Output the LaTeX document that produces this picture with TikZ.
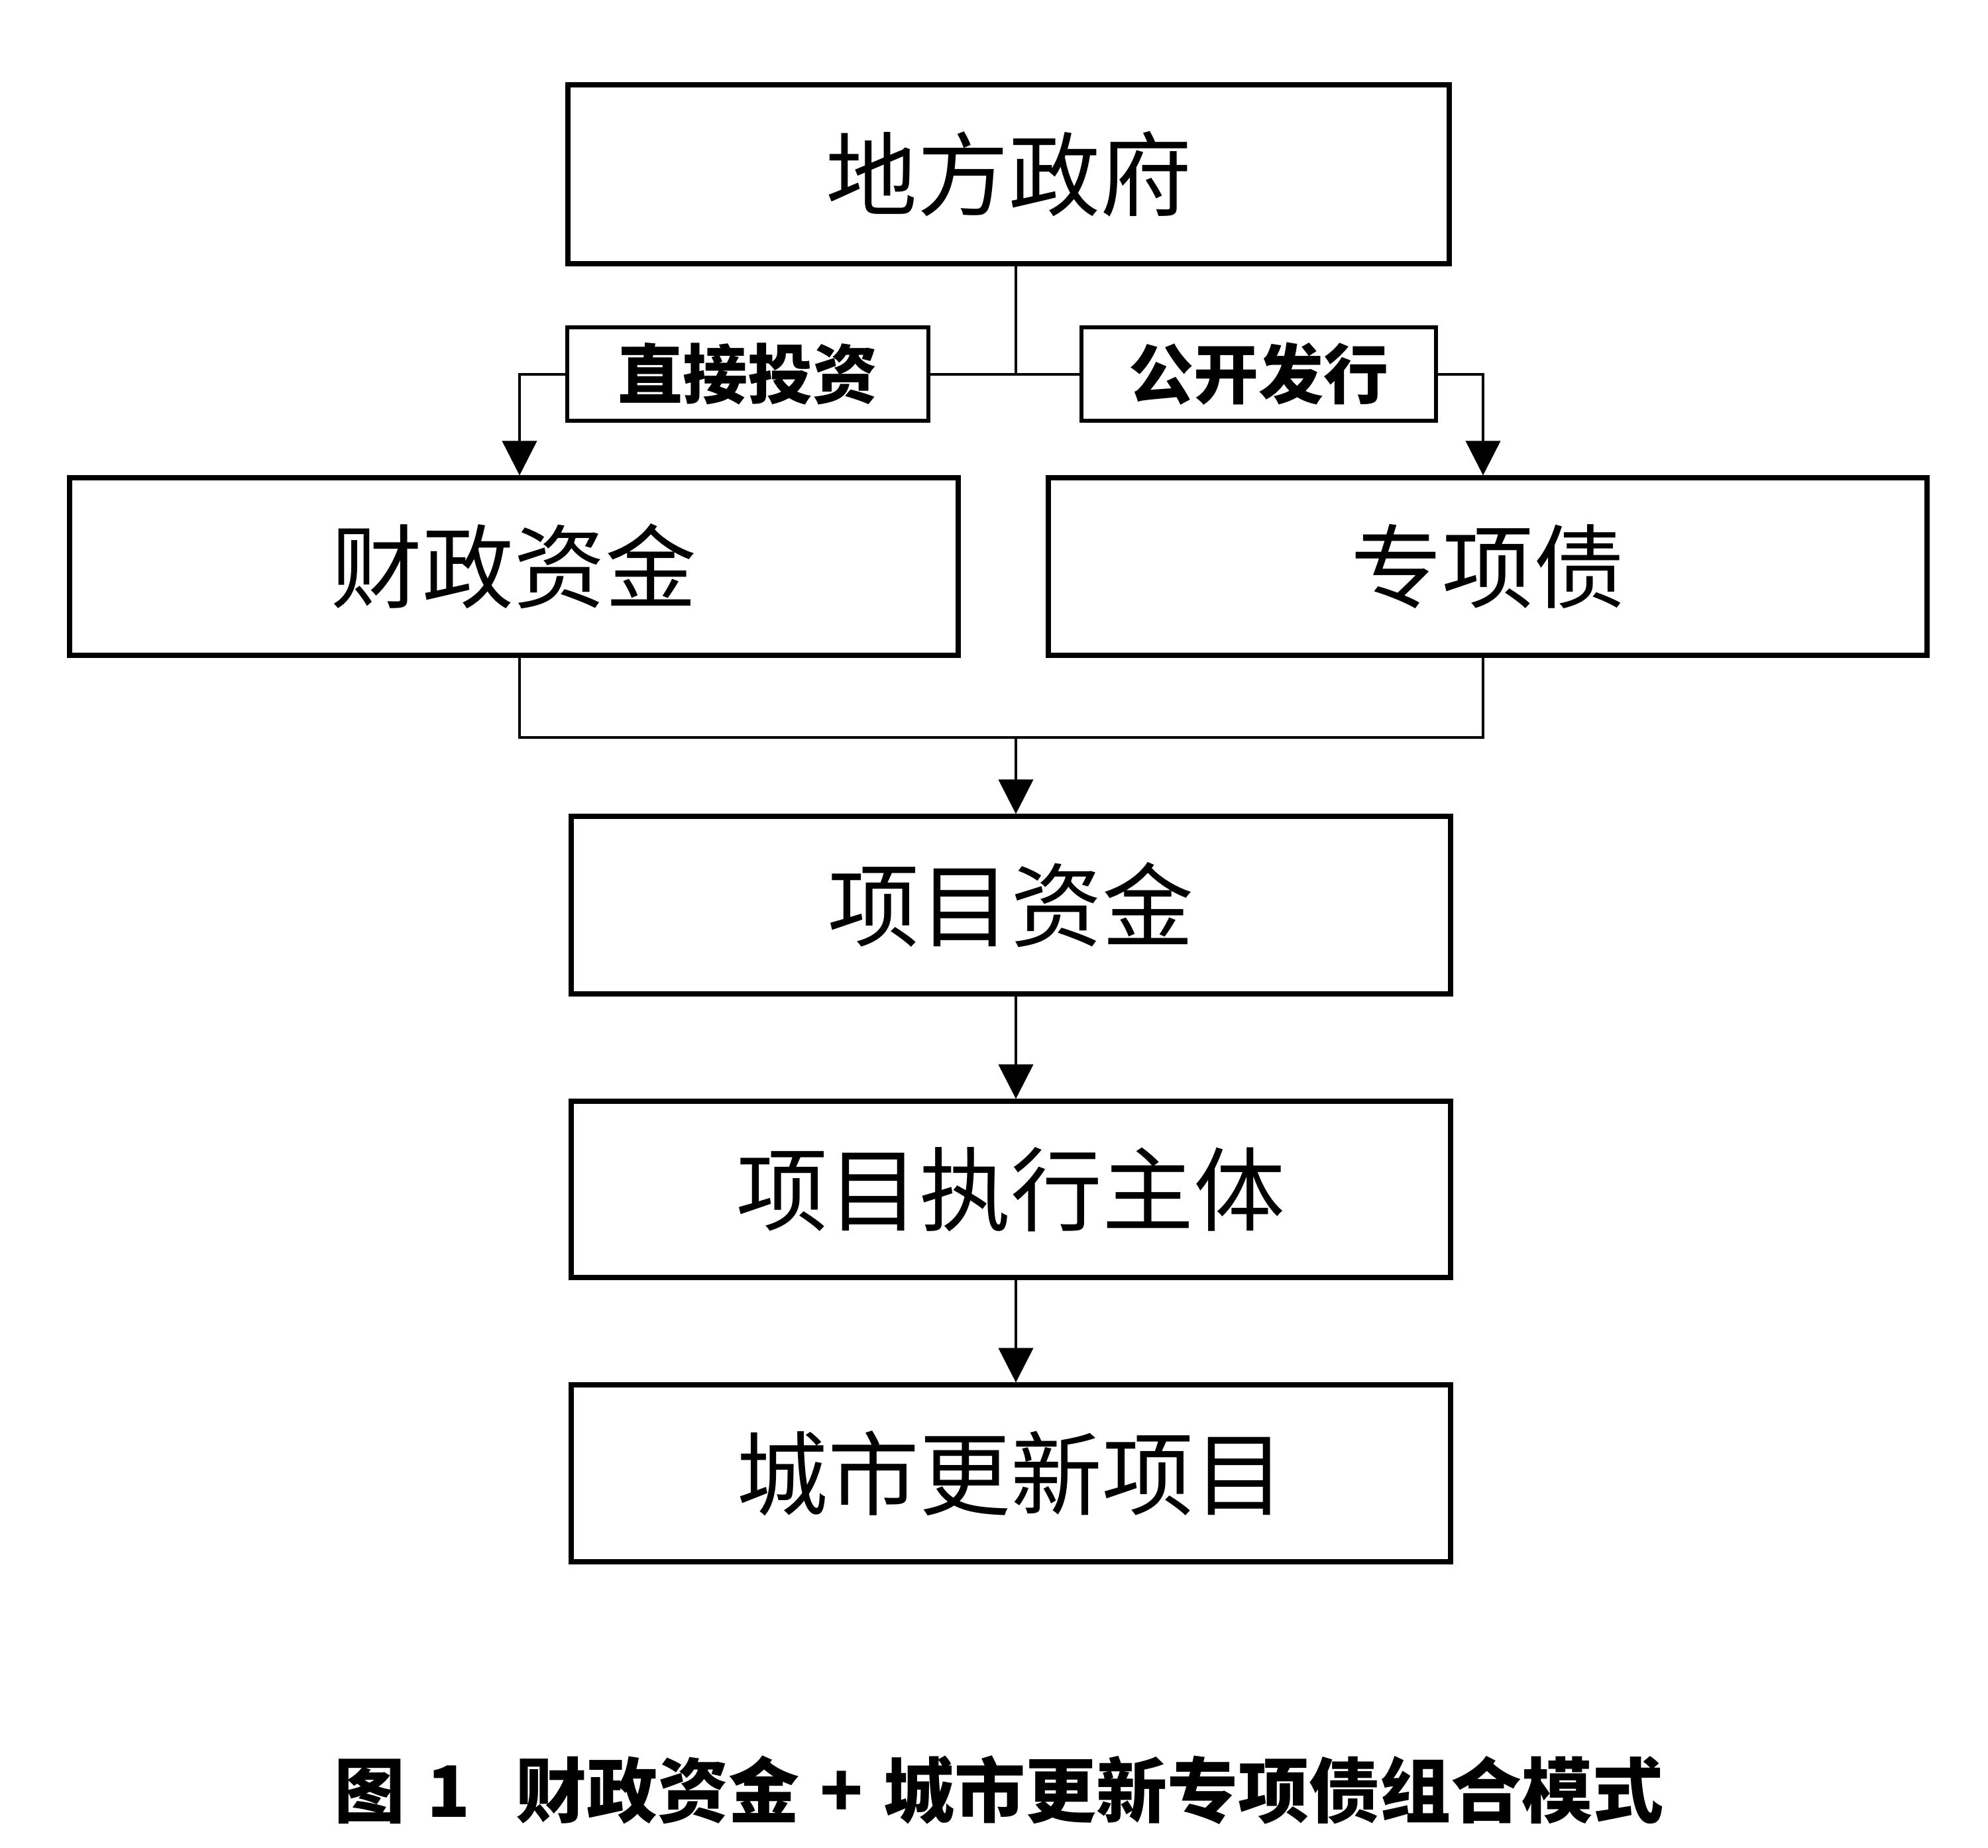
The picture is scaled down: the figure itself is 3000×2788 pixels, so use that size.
\documentclass[tikz,border=0pt]{standalone}
\usepackage{fontspec}
\setmainfont{Noto Sans CJK SC}
\usetikzlibrary{arrows.meta}
\begin{document}
\begin{tikzpicture}[x=0.25pt,y=-0.25pt,
  box/.style={draw, line width=1.8pt, rectangle, inner sep=0pt, font=\fontsize{34.5pt}{36pt}\selectfont},
  lab/.style={draw, line width=1.5pt, rectangle, inner sep=0pt, minimum height=35.25pt, font=\fontsize{24.5pt}{26pt}\selectfont\bfseries},
  conn/.style={line width=1pt},
  arr/.style={conn, -{Triangle[length=13pt,width=13pt]}}]
\useasboundingbox (0,0) rectangle (3000,2788);
\fill[white] (0,0) rectangle (3000,2788);
% boxes
\node[box, minimum width=332.5pt, minimum height=67.5pt] (gov) at (1522,263) {地方政府};
\node[lab, minimum width=136.25pt] (lab1) at (1128.5,564.5) {直接投资};
\node[lab, minimum width=133.75pt] (lab2) at (1899.5,564.5) {公开发行};
\node[box, minimum width=335.25pt, minimum height=67pt] (fin) at (775.5,855) {财政资金};
\node[box, minimum width=331.5pt, minimum height=67pt] (bond) at (2245,855) {专项债};
\node[box, minimum width=331.75pt, minimum height=67pt] (pf) at (1525.5,1366) {项目资金};
\node[box, minimum width=331.75pt, minimum height=66.5pt] (exe) at (1525.5,1795) {项目执行主体};
\node[box, minimum width=331.75pt, minimum height=66.75pt] (proj) at (1525.5,2223.5) {城市更新项目};
% junctions
\coordinate (j1) at (1533,564.5);
\coordinate (cl) at (784,564.5);
\coordinate (cr) at (2238,564.5);
\coordinate (m) at (1533,1113);
% connectors
\draw[conn] (j1 |- gov.south) -- (j1);
\draw[conn] (lab1.east) -- (lab2.west);
\draw[arr] (lab1.west) -- (cl) -- (cl |- fin.north);
\draw[arr] (lab2.east) -- (cr) -- (cr |- bond.north);
\draw[conn] (cl |- fin.south) -- (cl |- m) -- (cr |- m) -- (cr |- bond.south);
\draw[arr] (m) -- (m |- pf.north);
\draw[arr] (m |- pf.south) -- (m |- exe.north);
\draw[arr] (m |- exe.south) -- (m |- proj.north);
% caption
\node[font=\fontsize{26.75pt}{28pt}\selectfont\bfseries, inner sep=0pt] (cap) at (1508,2702)
  {图\hspace{0.3em}1\hspace{0.65em}财政资金\hspace{0.29em}+\hspace{0.29em}城市更新专项债组合模式};
\end{tikzpicture}
\end{document}
